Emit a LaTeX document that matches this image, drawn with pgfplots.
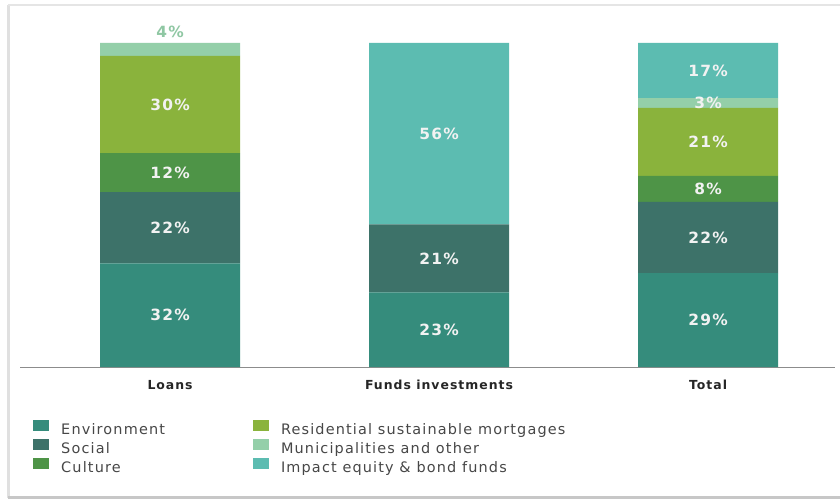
\documentclass[border=0pt]{standalone}
\usepackage{pgfplots}
\pgfplotsset{compat=1.18}
\usepackage{fontspec}
\setmainfont{DejaVu Sans}
\newfontfamily\numfont[LetterSpace=8]{DejaVu Sans}
\newfontfamily\legfont[LetterSpace=8]{DejaVu Sans}
\newfontfamily\tickfont[LetterSpace=8]{DejaVu Sans}
\definecolor{cEnv}{HTML}{358C7C}
\definecolor{cSoc}{HTML}{3D7269}
\definecolor{cCul}{HTML}{4E9447}
\definecolor{cMor}{HTML}{8AB33C}
\definecolor{cMun}{HTML}{94CFA9}
\definecolor{cImp}{HTML}{5CBCB1}
\definecolor{cLab}{HTML}{8FC7A3}
\begin{document}
\begin{tikzpicture}
\path[use as bounding box] (0,0) rectangle (840bp,500bp);
\fill[white] (0,0) rectangle (840bp,500bp);
\draw[black!12, line width=3bp] (8bp,2bp) -- (8bp,495bp);
\draw[black!10, line width=1.5bp] (8bp,495bp) -- (840bp,495bp);
\draw[black!22, line width=3bp] (8bp,2bp) -- (840bp,2bp);
\begin{axis}[
  at={(20bp,133bp)}, anchor=south west,
  scale only axis, width=815bp, height=324bp,
  xmin=-0.558, xmax=2.472, ymin=0, ymax=100,
  clip=false,
  ybar stacked, bar width=140bp,
  axis y line=none, axis x line*=bottom,
  x axis line style={-, draw=black!45, line width=0.8bp},
  xtick={0,1,2}, xticklabels={Loans, Funds investments, Total},
  major tick length=0pt,
  xticklabel style={font=\tickfont\bfseries\fontsize{12.5}{14}\selectfont, text=black!85, yshift=-10bp},
  point meta=explicit symbolic,
  nodes near coords,
  every node near coord/.append style={anchor=center, font=\numfont\bfseries\fontsize{15.5}{17}\selectfont, text=white!95!black},
  legend columns=3, transpose legend,
  legend cell align=left,
  legend style={at={(0.016,-0.164)}, anchor=north west, draw=none, fill=none, inner sep=0pt,
    font=\legfont\fontsize{14.5}{16}\selectfont, text=black!72, row sep=2bp, column sep=0pt,
    nodes={inner sep=0pt, text height=10bp, text depth=3bp},
    /tikz/every odd column/.append style={column sep=12bp},
    /tikz/every even column/.append style={column sep=88bp}},
  legend image code/.code={\fill[#1] (0bp,-0.5bp) rectangle (16bp,10.5bp);},
]
\addplot[fill=cEnv, draw=none] coordinates {(0,32)[32\%] (1,23)[23\%] (2,29)[29\%]};
\addlegendentry{Environment}
\addplot[fill=cSoc, draw=none] coordinates {(0,22)[22\%] (1,21)[21\%] (2,22)[22\%]};
\addlegendentry{Social}
\addplot[fill=cCul, draw=none] coordinates {(0,12)[12\%] (1,0)[{}] (2,8)[8\%]};
\addlegendentry{Culture}
\addplot[fill=cMor, draw=none] coordinates {(0,30)[30\%] (1,0)[{}] (2,21)[21\%]};
\addlegendentry{Residential sustainable mortgages}
\addplot[fill=cMun, draw=none] coordinates {(0,4)[{}] (1,0)[{}] (2,3)[3\%]};
\addlegendentry{Municipalities and other}
\addplot[fill=cImp, draw=none] coordinates {(0,0)[{}] (1,56)[56\%] (2,17)[17\%]};
\addlegendentry{Impact equity \& bond funds}
\node[text=cLab, font=\numfont\bfseries\fontsize{15.5}{17}\selectfont, anchor=center, yshift=11bp] at (axis cs:0,100) {4\%};
\end{axis}
\end{tikzpicture}
\end{document}
